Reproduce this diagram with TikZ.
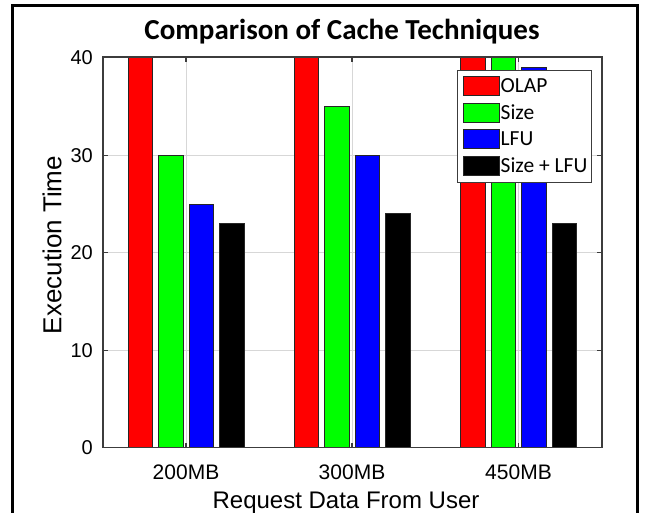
\documentclass[tikz,border=0pt]{standalone}
\usepackage{fontspec}
\setmainfont{Liberation Sans}
\newfontfamily\calfont{Carlito}
\definecolor{barred}{RGB}{255,0,0}
\definecolor{bargreen}{RGB}{0,255,0}
\definecolor{barblue}{RGB}{0,0,255}
\definecolor{gridgray}{RGB}{215,215,215}
\definecolor{axisgray}{RGB}{60,60,60}
\newcommand{\fs}[1]{\fontsize{#1}{#1}\selectfont}
\begin{document}
\begin{tikzpicture}[x=1pt,y=-1pt,
  bar/.style={draw=black!85,line width=0.9pt},
  gridline/.style={draw=gridgray,line width=0.9pt},
  axisline/.style={draw=axisgray,line width=1.1pt},
  ticklbl/.style={font=\fs{20}},
  legtxt/.style={font=\calfont\fs{21.5},anchor=west,inner sep=0pt},
  swatch/.style={draw=black!85,line width=0.9pt}]
\useasboundingbox (0,0) rectangle (645,512);
\clip (0,0) rectangle (645,512);
\fill[white] (0,0) rectangle (645,512);
% outer frame
\draw[black,line width=2.4pt] (12.5,5.5) rectangle (637.5,540);
% axis geometry: x from 103 to 602, y(0)=447.5, y(40)=57
\def\yz{447.5}
\def\ys{9.7375}
% grid
\foreach \v in {10,20,30}{
  \draw[gridline] (103,{\yz-\ys*\v}) -- (602,{\yz-\ys*\v});
}
\foreach \c in {186,352,518.5}{
  \draw[gridline] (\c,57) -- (\c,447.5);
}
% bars
\begin{scope}
\clip (103,57) rectangle (602,447.5);
\foreach \c/\a/\b/\cc/\d in {186/45/30/25/23, 352/45/35/30/24, 518.5/45/45/39/23}{
  \draw[bar,fill=barred]   ({\c-45.75-12.25},\yz) rectangle ({\c-45.75+12.25},{\yz-\ys*\a});
  \draw[bar,fill=bargreen] ({\c-15.25-12.25},\yz) rectangle ({\c-15.25+12.25},{\yz-\ys*\b});
  \draw[bar,fill=barblue]  ({\c+15.25-12.25},\yz) rectangle ({\c+15.25+12.25},{\yz-\ys*\cc});
  \draw[bar,fill=black]    ({\c+45.75-12.25},\yz) rectangle ({\c+45.75+12.25},{\yz-\ys*\d});
}
\end{scope}
% axes box and ticks
\draw[axisline] (103,57) rectangle (602,447.5);
\foreach \v in {10,20,30}{
  \draw[axisline] (103,{\yz-\ys*\v}) -- (108,{\yz-\ys*\v});
  \draw[axisline] (602,{\yz-\ys*\v}) -- (597,{\yz-\ys*\v});
}
\foreach \c in {186,352,518.5}{
  \draw[axisline] (\c,57) -- (\c,62);
  \draw[axisline] (\c,447.5) -- (\c,442.5);
}
% tick labels
\foreach \v in {0,10,20,30,40}{
  \node[ticklbl,anchor=east,inner sep=0pt] (yt\v) at (93,{\yz-\ys*\v}) {\v};
}
\node[ticklbl,font=\fs{21},anchor=base] (x200) at (186,479) {200MB};
\node[ticklbl,font=\fs{21},anchor=base] (x300) at (352,479) {300MB};
\node[ticklbl,font=\fs{21},anchor=base] (x450) at (518.5,479) {450MB};
% axis labels and title
\node[font=\fs{24},anchor=base] (xlabel) at (346,508) {Request Data From User};
\node[font=\fs{26},rotate=90,inner sep=0pt] (ylabel) at (52,245) {Execution Time};
\node[font=\calfont\bfseries\fs{29},anchor=base] (title) at (342,39.5) {Comparison of Cache Techniques};
% legend
\draw[draw=axisgray,line width=1pt,fill=white] (457,70) rectangle (591,182);
\foreach \y/\col/\txt/\nm in {86/barred/OLAP/la, 112.5/bargreen/Size/lb, 139/barblue/LFU/lc, 165.5/black/Size + LFU/ld}{
  \draw[swatch,fill=\col] (463,{\y-9.5}) rectangle (499,{\y+9.5});
  \node[legtxt] (\nm) at (500.5,\y) {\txt};
}
\end{tikzpicture}
\end{document}
